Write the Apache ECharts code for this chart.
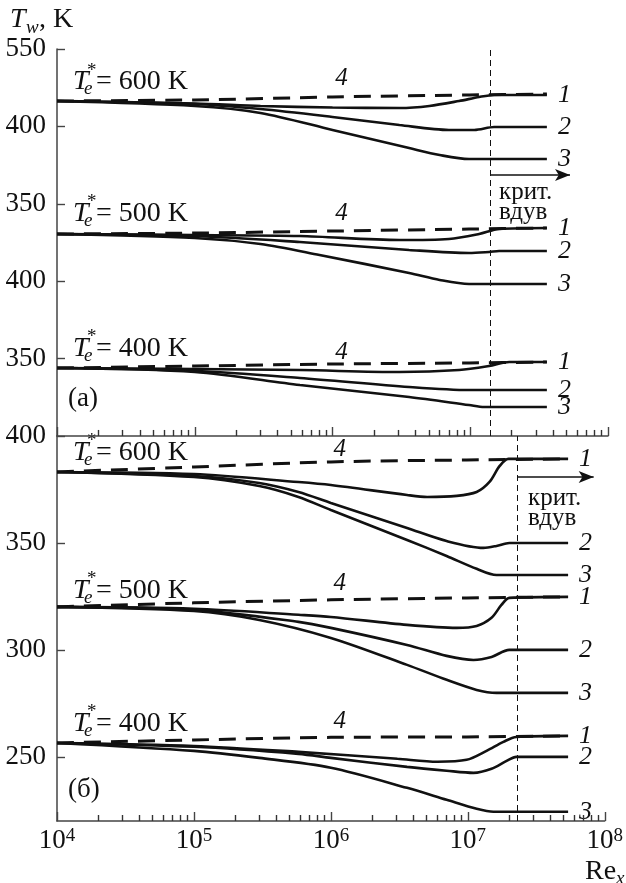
<!DOCTYPE html>
<html><head><meta charset="utf-8">
<script src="https://cdn.jsdelivr.net/npm/echarts@6/dist/echarts.min.js"></script>
<style>html,body{margin:0;padding:0;background:#fff}#c{width:626px;height:883px}</style>
</head><body><div id="c"></div>
<script>
// ---- axis ticks / labels ----
const xMajorTicks = [1e4, 1e5, 1e6, 1e7, 1e8];
const aTickLabels = ['400', '350', '400', '350', '400', '550']; // panel (a) stacked-offset scale, at 0,50,...,250
const bTickValues = [250, 300, 350, 400];
const groupTemps = ['600', '500', '400'];
const critReA = 1.4e7;   // critical blowing, panel (a)
const critReB = 2.3e7;   // critical blowing, panel (б)

// ---- panel (a): Re_x vs offset T_w (stacked groups) ----
const a600_4 = [[1e4,216.4],[1e5,217.1],[1e6,219.0],[9.8e6,220.3],[3.6e7,220.9]];
const a600_1 = [[1e4,216.4],[1e5,214.8],[3e5,213.2],[1e6,212.2],[3.06e6,211.9],[5.05e6,213.2],[8.3e6,216.4],[1.16e7,219.0],[1.49e7,220.3],[3.6e7,220.3]];
const a600_2 = [[1e4,216.4],[1e5,214.5],[3e5,211.2],[1e6,206.1],[3.06e6,200.9],[7e6,197.7],[1.07e7,197.7],[1.49e7,199.6],[3.6e7,199.6]];
const a600_3 = [[1e4,216.4],[1e5,213.2],[3e5,208.7],[1e6,197.7],[3.6e6,186.0],[6e6,181.5],[9.8e6,178.9],[3.6e7,178.9]];

const a500_4 = [[1e4,130.5],[1e5,131.1],[1e6,132.4],[9.8e6,133.7],[3.6e7,134.4]];
const a500_1 = [[1e4,130.5],[1e5,129.8],[5.8e5,129.2],[3.06e6,126.6],[7e6,127.3],[1.16e7,130.5],[1.62e7,133.7],[3.6e7,134.4]];
const a500_2 = [[1e4,130.5],[1e5,129.2],[5.8e5,125.3],[3.6e6,120.2],[9.8e6,118.2],[1.37e7,118.9],[1.62e7,119.5],[3.6e7,119.5]];
const a500_3 = [[1e4,130.5],[1e5,127.9],[3e5,124.0],[8.05e5,116.9],[3.6e6,105.3],[6e6,100.8],[9.8e6,98.2],[3.6e7,98.2]];

const a400_4 = [[1e4,43.9],[1e5,45.2],[1e6,46.5],[9.8e6,47.2],[3.6e7,47.8]];
const a400_1 = [[1e4,43.9],[1e5,43.3],[5.8e5,42.6],[3.06e6,41.3],[8.3e6,42.6],[1.37e7,45.2],[1.92e7,47.8],[3.6e7,47.8]];
const a400_2 = [[1e4,43.9],[1e5,42.0],[5.8e5,37.5],[3.6e6,31.7],[9.8e6,29.7],[3.6e7,29.7]];
const a400_3 = [[1e4,43.9],[1e5,41.3],[5.8e5,32.9],[3.6e6,25.2],[9.8e6,20.0],[1.26e7,18.7],[3.6e7,18.7]];

// ---- panel (б): Re_x vs T_w, K ----
const b600_4 = [[1e4,383.2],[1e5,385.5],[1e6,387.9],[9.8e6,388.8],[5.4e7,389.3]];
const b600_1 = [[1e4,383.2],[1e5,382.2],[5.8e5,378.5],[1e6,377.1],[3.6e6,372.4],[5.05e6,371.5],[8.3e6,372.0],[1.16e7,373.8],[1.44e7,378.5],[1.71e7,386.0],[1.98e7,389.3],[5.4e7,389.3]];
const b600_2 = [[1e4,383.2],[1e5,381.3],[3e5,378.0],[5.8e5,373.8],[1e6,368.7],[3.6e6,357.0],[7e6,350.9],[1.3e7,347.7],[1.62e7,348.6],[2.01e7,350.0],[5.4e7,350.0]];
const b600_3 = [[1e4,383.2],[1e5,380.8],[3e5,376.6],[5.8e5,371.5],[1e6,365.4],[3.6e6,351.4],[7e6,343.9],[1.16e7,337.9],[1.62e7,335.0],[5.4e7,335.0]];

const b500_4 = [[1e4,320.1],[1e5,322.0],[1e6,323.4],[9.8e6,324.3],[5.4e7,324.8]];
const b500_1 = [[1e4,320.1],[1e5,319.2],[5.8e5,316.4],[1e6,315.4],[3.6e6,311.7],[8.3e6,310.3],[1.16e7,311.2],[1.49e7,315.0],[1.76e7,321.0],[2.01e7,324.3],[5.4e7,324.8]];
const b500_2 = [[1e4,320.1],[1e5,318.7],[5.8e5,313.1],[1e6,310.3],[3.6e6,302.3],[7e6,297.2],[1.1e7,295.3],[1.49e7,296.7],[2.01e7,300.0],[5.4e7,300.0]];
const b500_3 = [[1e4,320.1],[1e5,318.2],[3e5,314.0],[1e6,305.6],[3.6e6,293.0],[7e6,286.0],[1.16e7,281.3],[1.62e7,279.9],[5.4e7,279.9]];

const b400_4 = [[1e4,256.5],[1e5,257.9],[1e6,259.1],[9.8e6,259.3],[5.4e7,259.8]];
const b400_1 = [[1e4,256.5],[1e5,255.1],[5.8e5,252.3],[3.06e6,249.1],[6e6,247.7],[9.8e6,248.6],[1.37e7,252.8],[1.82e7,257.0],[2.26e7,259.3],[5.4e7,259.8]];
const b400_2 = [[1e4,256.5],[1e5,254.7],[5.8e5,251.4],[1e6,249.5],[3.6e6,245.3],[7e6,243.5],[1.1e7,242.5],[1.49e7,244.4],[1.92e7,248.1],[2.26e7,250.0],[5.4e7,250.0]];
const b400_3 = [[1e4,256.5],[1e5,252.8],[3e5,249.5],[1e6,244.9],[3.6e6,235.5],[7e6,229.9],[1.16e7,225.7],[1.54e7,224.3],[5.4e7,224.3]];

// label "4" anchor points (data coords) and arrow ends
const label4A = [[1.16e6,231.3],[1.16e6,144.1],[1.16e6,54.3]];
const label4B = [[1.16e6,393.5],[1.16e6,331.3],[1.16e6,266.4]];
const arrowA = [[1.4e7,168.6],[5.3e7,168.6]];
const arrowB = [[2.3e7,380.8],[8.3e7,380.8]];

// ---------------------------------------------------------------
const FONT = '"Liberation Serif", serif';
const INK = '#111';
const AX = '#444';

const minorVals = [];
for (let d = 4; d < 8; d++) for (let k = 2; k <= 9; k++) minorVals.push(k * Math.pow(10, d));

const panels = [
  {grid: 0, xi: 0, yMin: 0, tickLen: 3.9, groups: [[a600_4,a600_1,a600_2,a600_3],[a500_4,a500_1,a500_2,a500_3],[a400_4,a400_1,a400_2,a400_3]], l4: label4A, crit: critReA, arrow: arrowA},
  {grid: 1, xi: 1, yMin: 220, tickLen: 2.8, groups: [[b600_4,b600_1,b600_2,b600_3],[b500_4,b500_1,b500_2,b500_3],[b400_4,b400_1,b400_2,b400_3]], l4: label4B, crit: critReB, arrow: arrowB}
];

const series = [];
panels.forEach(p => {
  p.groups.forEach((g, gi) => {
    series.push({
      type: 'line', xAxisIndex: p.xi, yAxisIndex: p.grid, data: g[0], symbol: 'none',
      smooth: 0.3, silent: true,
      lineStyle: {color: INK, width: 3, type: [17, 10]},
      markPoint: {
        symbol: 'circle', symbolSize: 1, itemStyle: {color: 'rgba(0,0,0,0)'},
        data: [{coord: p.l4[gi], label: {show: true, position: 'inside', formatter: '4', color: INK,
          fontFamily: FONT, fontStyle: 'italic', fontSize: 25}}]
      }
    });
    [1, 2, 3].forEach(k => {
      series.push({
        type: 'line', xAxisIndex: p.xi, yAxisIndex: p.grid, data: g[k], symbol: 'none',
        smooth: 0.3, silent: true,
        lineStyle: {color: INK, width: 2.6},
        endLabel: {show: true, formatter: String(k), distance: 11, color: INK,
          fontFamily: FONT, fontStyle: 'italic', fontSize: 26}
      });
    });
  });
  // minor (2..9) log ticks on the bottom axis line, placed by the log axis
  const minorTickLines = minorVals.map(v => [
    {coord: [v, p.yMin], symbol: 'none'},
    {coord: [v, p.yMin + p.tickLen], symbol: 'none'}
  ]);
  series.push({
    type: 'line', xAxisIndex: p.xi, yAxisIndex: p.grid, data: [], silent: true,
    markLine: {
      silent: true, animation: false, label: {show: false},
      data: [
        {xAxis: p.crit, symbol: 'none', lineStyle: {type: [6, 4], width: 1, color: INK}},
        [{coord: p.arrow[0], symbol: 'none'}, {coord: p.arrow[1], symbol: 'arrow', symbolSize: [9, 15]}]
      ].concat(minorTickLines.map(seg => [
        Object.assign({}, seg[0], {lineStyle: {color: '#333', width: 1.4, type: 'solid'}}),
        seg[1]
      ])),
      symbol: ['none', 'none'],
      lineStyle: {color: INK, width: 1.6, type: 'solid'}
    }
  });
});

function txt(x, y, text, size, italic, align) {
  return {type: 'text', x: x, y: y, silent: true,
    style: {text: text, font: (italic ? 'italic ' : '') + size + 'px ' + FONT, fill: INK,
      align: align || 'left', verticalAlign: 'middle', textAlign: align || 'left', textVerticalAlign: 'middle'}};
}
const graphics = [];
const teCenters = [82, 213.5, 348.5, 452.5, 590.5, 723.5];
teCenters.forEach((cy, i) => {
  const t = groupTemps[i % 3];
  graphics.push(txt(73, cy, 'T', 28, true));
  graphics.push(txt(84, cy + 7, 'e', 19, true));
  graphics.push(txt(87, cy - 11, '*', 19, false));
  graphics.push(txt(96, cy, '= ' + t + ' K', 28, false));
});
graphics.push(txt(10, 20, 'T', 28, true));
graphics.push(txt(26, 28, 'w', 19, true));
graphics.push(txt(39, 20, ', K', 28, false));
graphics.push(txt(585, 872, 'Re', 28, false));
graphics.push(txt(616, 879, 'x', 19, true));
graphics.push(txt(68, 399, '(a)', 27, false));
graphics.push(txt(68, 790, '(б)', 27, false));
graphics.push(txt(499, 192, 'крит.', 25, false));
graphics.push(txt(499, 212, 'вдув', 25, false));
graphics.push(txt(528, 498, 'крит.', 25, false));
graphics.push(txt(528, 518, 'вдув', 25, false));

function logX(gridIndex, showLabels) {
  return {
    type: 'log', logBase: 10, gridIndex: gridIndex, min: 1e4, max: 1e8, position: 'bottom',
    axisLine: {show: true, onZero: false, lineStyle: {color: AX, width: 1.5}},
    axisTick: {show: true, inside: true, length: 9, customValues: xMajorTicks, lineStyle: {color: AX, width: 1.4}},
    splitLine: {show: false}, minorTick: {show: false},
    axisLabel: showLabels ? {
      show: true, margin: 6, color: INK, customValues: xMajorTicks,
      formatter: v => '{b|10}{s|' + Math.round(Math.log10(v)) + '}',
      rich: {
        b: {fontFamily: FONT, fontSize: 27, lineHeight: 28, color: INK},
        s: {fontFamily: FONT, fontSize: 19, lineHeight: 12, verticalAlign: 'top', color: INK}
      }
    } : {show: false}
  };
}

const option = {
  animation: false,
  backgroundColor: '#fff',
  grid: [
    {left: 57, top: 49, width: 551, height: 387},
    {left: 57, top: 436, width: 551, height: 385}
  ],
  xAxis: [logX(0, false), logX(1, true)],
  yAxis: [
    {
      type: 'value', gridIndex: 0, min: 0, max: 250, interval: 50,
      axisLine: {show: true, onZero: false, lineStyle: {color: AX, width: 1.5}},
      axisTick: {show: true, inside: true, length: 8, lineStyle: {color: AX, width: 1.4}},
      splitLine: {show: false},
      axisLabel: {show: true, showMinLabel: false, margin: 11, color: INK, fontFamily: FONT, fontSize: 27,
        formatter: v => aTickLabels[Math.round(v / 50)]}
    },
    {
      type: 'value', gridIndex: 1, min: 220, max: 400,
      axisLine: {show: true, onZero: false, lineStyle: {color: AX, width: 1.5}},
      axisTick: {show: true, inside: true, length: 8, customValues: bTickValues, lineStyle: {color: AX, width: 1.4}},
      splitLine: {show: false},
      axisLabel: {show: true, margin: 11, color: INK, fontFamily: FONT, fontSize: 27, customValues: bTickValues}
    }
  ],
  series: series,
  graphic: graphics
};

const chart = echarts.init(document.getElementById('c'), null, {renderer: 'canvas'});
chart.setOption(option);
</script>
</body></html>
